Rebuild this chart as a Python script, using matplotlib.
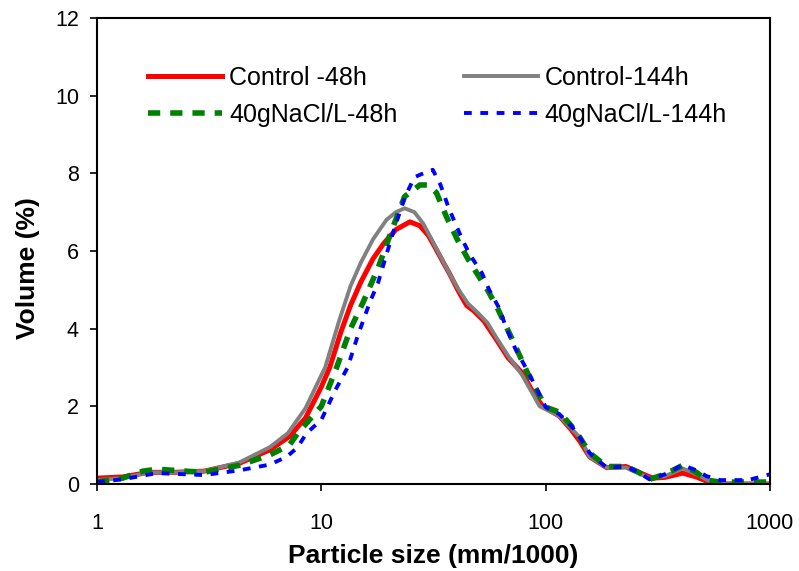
import matplotlib.pyplot as plt
from matplotlib.ticker import FixedLocator, NullLocator

plt.rcParams['font.family'] = ['Liberation Sans', 'DejaVu Sans']

# Control -48h
x_c48 = [1.0, 1.3, 1.7, 2.2, 3.0, 4.3, 5.9, 7.2, 8.5, 10.0, 10.9, 12.2, 13.5, 15.0, 17.0, 19.0,
         21.5, 24.8, 27.5, 30.0, 32.1, 35.0, 37.4, 41.0, 44.4, 48.0, 53.0, 60.6, 68.0, 78.6, 88.0,
         97.0, 115, 130, 142, 157, 187, 228, 260, 300, 340, 408, 470, 560, 1000]
y_c48 = [0.15, 0.18, 0.3, 0.3, 0.33, 0.53, 0.88, 1.22, 1.7, 2.5, 3.0, 3.9, 4.6, 5.2, 5.8, 6.2,
         6.55, 6.75, 6.65, 6.4, 6.1, 5.7, 5.4, 4.95, 4.6, 4.45, 4.2, 3.7, 3.25, 2.86, 2.35,
         2.0, 1.75, 1.4, 1.1, 0.7, 0.42, 0.45, 0.3, 0.15, 0.17, 0.28, 0.18, 0.0, 0.0]

# Control-144h
x_c144 = [1.0, 1.3, 1.7, 2.2, 3.0, 4.3, 5.9, 7.1, 8.5, 10.0, 10.4, 12.0, 13.5, 15.0, 17.0, 19.5,
          21.5, 23.5, 26.0, 28.5, 31.0, 33.7, 37.4, 41.0, 45.0, 50.0, 55.0, 60.6, 68.0, 78.6, 88.0,
          94.0, 115, 142, 157, 187, 228, 290, 340, 408, 470, 560, 1000]
y_c144 = [0.1, 0.15, 0.3, 0.3, 0.33, 0.55, 0.95, 1.31, 1.95, 2.8, 3.0, 4.2, 5.1, 5.7, 6.3, 6.8,
          7.0, 7.1, 7.0, 6.7, 6.3, 5.9, 5.4, 5.0, 4.65, 4.4, 4.15, 3.75, 3.3, 2.8, 2.3,
          2.0, 1.75, 1.2, 0.7, 0.42, 0.42, 0.15, 0.2, 0.4, 0.25, 0.02, 0.0]

# 40gNaCl/L-48h
x_n48 = [1.0, 1.3, 1.6, 1.85, 2.5, 3.0, 4.3, 5.9, 7.2, 7.86, 9.0, 10.0, 11.7, 13.5, 15.3, 17.9,
         20.5, 23.5, 27.5, 30.0, 32.6, 36.0, 40.5, 45.0, 49.3, 55.0, 60.6, 71.3, 83.0, 100,
         115, 130, 142, 157, 187, 228, 260, 290, 340, 408, 470, 522, 600, 1000]
y_n48 = [0.05, 0.15, 0.33, 0.38, 0.33, 0.3, 0.48, 0.75, 1.0, 1.31, 1.7, 2.0, 3.0, 4.0, 4.66, 5.56,
         6.5, 7.4, 7.7, 7.7, 7.5, 6.9, 6.28, 5.8, 5.43, 5.0, 4.56, 3.7, 2.86, 1.98,
         1.85, 1.5, 1.2, 0.8, 0.45, 0.45, 0.3, 0.12, 0.25, 0.48, 0.3, 0.1, 0.05, 0.05]

# 40gNaCl/L-144h
x_n144 = [1.0, 1.3, 1.85, 3.0, 4.3, 5.9, 7.0, 7.8, 8.6, 10.0, 11.5, 13.1, 14.5, 16.4, 17.9, 19.6,
          21.5, 23.5, 26.0, 28.5, 31.4, 34.0, 37.0, 42.6, 46.0, 52.0, 56.0, 61.6, 67.0, 73.0, 84.0,
          100, 115, 130, 142, 157, 187, 228, 260, 290, 340, 408, 470, 522, 600, 800, 1000]
y_n144 = [0.05, 0.12, 0.28, 0.23, 0.35, 0.5, 0.7, 0.93, 1.31, 1.65, 2.4, 3.0, 3.8, 4.66, 5.18, 5.95,
          6.7, 7.37, 7.9, 8.0, 8.09, 7.7, 7.1, 6.28, 5.9, 5.43, 5.0, 4.56, 4.0, 3.5, 2.86,
          1.98, 1.8, 1.5, 1.2, 0.8, 0.42, 0.45, 0.3, 0.12, 0.25, 0.49, 0.35, 0.2, 0.1, 0.1, 0.25]

fig = plt.figure(figsize=(7.99, 5.71), dpi=100)
ax = fig.add_axes([0.1214, 0.1524, 0.8423, 0.8161])

l1, = ax.plot(x_c48, y_c48, color='red', lw=3.6, label='Control -48h')
l2, = ax.plot(x_c144, y_c144, color='#808080', lw=2.8, label='Control-144h')
l3, = ax.plot(x_n48, y_n48, color='green', lw=4.0, dashes=(2.2, 1.8), label='40gNaCl/L-48h')
l4, = ax.plot(x_n144, y_n144, color='blue', lw=2.8, dashes=(2.0, 2.2), label='40gNaCl/L-144h')

ax.set_xscale('log')
ax.set_xlim(1, 1000)
ax.set_ylim(0, 12)
ax.xaxis.set_major_locator(FixedLocator([1, 10, 100, 1000]))
ax.xaxis.set_minor_locator(NullLocator())
ax.set_xticklabels(['1', '10', '100', '1000'])
ax.set_yticks(range(0, 13, 2))
ax.tick_params(axis='both', direction='out', length=5, width=1.2, labelsize=15.5)
ax.tick_params(axis='y', pad=8)
ax.tick_params(axis='x', pad=16)
for s in ax.spines.values():
    s.set_linewidth(1.5)

ax.set_xlabel('Particle size (mm/1000)', fontsize=19, fontweight='bold', labelpad=7)
ax.set_ylabel('Volume (%)', fontsize=19, fontweight='bold', labelpad=11, y=0.4635)

ax.legend([l1, l3, l2, l4], [l1.get_label(), l3.get_label(), l2.get_label(), l4.get_label()],
          ncol=2, frameon=False, loc='upper left', bbox_to_anchor=(0.043, 0.946),
          fontsize=18, handlelength=2.95, handletextpad=0.28, columnspacing=2.65,
          labelspacing=0.54)

fig.savefig('out.png', dpi=100)
